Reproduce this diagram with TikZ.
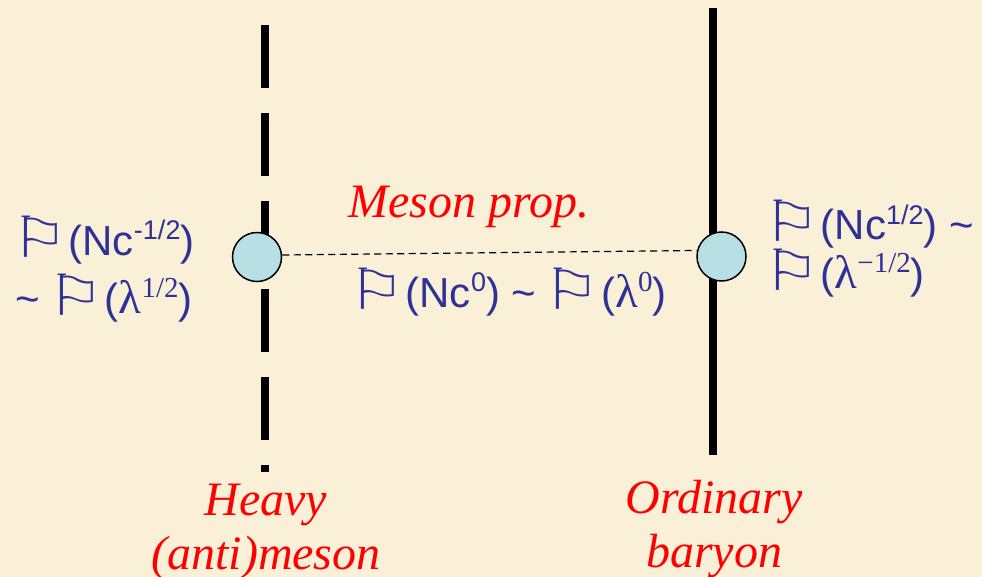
\documentclass[tikz,border=0pt]{standalone}
\usepackage{fontspec}
\setmainfont{Liberation Serif}
\newfontfamily\dvs{DejaVu Sans}
\newfontfamily\lsans{Liberation Sans}
\newfontfamily\lserif{Liberation Serif}
\definecolor{bgcol}{RGB}{250,240,216}
\definecolor{bluetxt}{RGB}{46,50,150}
\definecolor{ballcol}{RGB}{183,223,228}
\newcommand\flg{\kern-4pt\raisebox{-2pt}{\scalebox{1.5}[1.35]{\dvs ⚐}}\kern1pt}
\newcommand\lam{{\lserif\fontsize{47}{50}\selectfont λ}}
\newcommand\supA[1]{\raisebox{0.36em}{\fontsize{27}{27}\selectfont #1}}
\newcommand\supB[1]{\raisebox{0.38em}{\lserif\fontsize{29}{29}\selectfont #1}}
\newcommand\tld{\textasciitilde}
\tikzset{
  bluetext/.style={font=\lsans\fontsize{42}{50}\selectfont, text=bluetxt, inner sep=0pt, anchor=base west},
  redtext/.style={font=\lserif\itshape\fontsize{48}{55}\selectfont, text=red, inner sep=0pt, anchor=base},
  ball/.style={circle, draw=black, fill=ballcol, minimum size=49pt, inner sep=0pt, line width=1.5pt},
}
\begin{document}
\begin{tikzpicture}[x=1pt,y=-1pt]
\fill[bgcol] (0,0) rectangle (982,577);
\useasboundingbox (0,0) rectangle (982,577);
% world lines
\coordinate (ltop) at (265,25);
\coordinate (lbot) at (265,472);
\coordinate (rtop) at (713,8);
\coordinate (rbot) at (713,455);
\draw[line width=8pt, dash pattern=on 63pt off 25pt] (ltop) -- (lbot);
\draw[line width=8pt] (rtop) -- (rbot);
% vertices
\node[ball] (lc) at (257,257) {};
\node[ball] (rc) at (721.5,256.5) {};
\draw[line width=1.2pt, dash pattern=on 7pt off 4.5pt] ([yshift=2pt]lc.east) -- ([yshift=6pt]rc.west);
% labels
\node[redtext, anchor=base west] (mp) at (348,218) {Meson prop.};
\node[bluetext] (mid) at (352,307) {\flg(Nc\supA{0}) \tld\ \flg(\lam\supB{0})};
\node[bluetext] (l1) at (15,255) {\flg(Nc\supA{-1/2})};
\node[bluetext] (l2) at (15,313) {\tld\ \flg(\lam\supB{1/2})};
\node[bluetext] (r1) at (767,240) {\flg(Nc\supA{1/2}) \tld};
\node[bluetext] (r2) at (767,288) {\flg(\lam\supB{−1/2})};
\node[redtext] (h1) at (266,515) {Heavy};
\node[redtext] (h2) at (266,569) {(anti)meson};
\node[redtext] (o1) at (714,513) {Ordinary};
\node[redtext] (o2) at (714,567) {baryon};
\end{tikzpicture}
\end{document}
